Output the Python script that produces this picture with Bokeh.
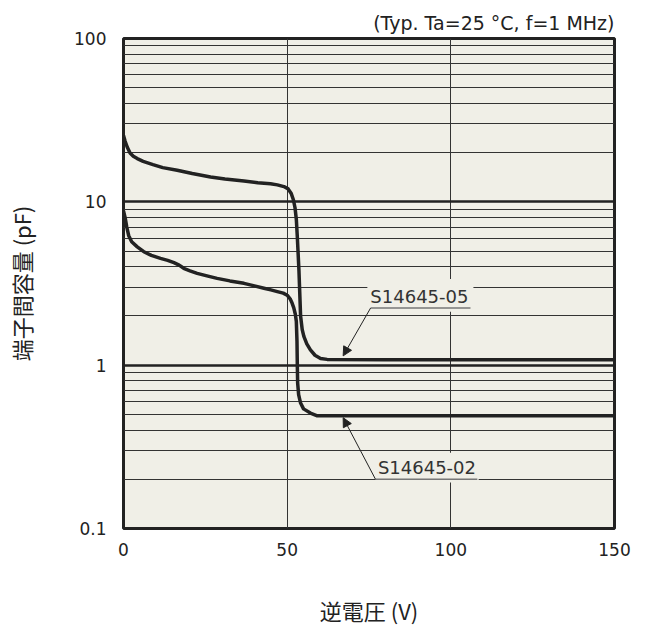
from bokeh.plotting import figure
from bokeh.models import FixedTicker, NumeralTickFormatter, Label, Arrow, NormalHead
from bokeh.embed import file_html
from bokeh.resources import INLINE

# Terminal capacitance vs. reverse voltage (Typ. Ta=25 °C, f=1 MHz)
voltage_05 = [0, 0.5, 1.2, 2.0, 3.0, 4.2, 6, 9, 12, 16.4, 21, 26.6, 31, 36.8, 41, 44.9,
              47, 49, 50.3, 51.2, 51.9, 52.4, 52.8, 53.1, 53.6, 54.1, 54.6, 55.1, 56,
              57.1, 58.5, 60.2, 62.2, 80, 100, 125, 150]
cap_05 = [25.5, 23.5, 21.5, 19.9, 19.0, 18.4, 17.7, 16.9, 16.2, 15.6, 14.9, 14.2, 13.8,
          13.4, 13.1, 12.9, 12.7, 12.4, 12.0, 11.3, 10.3, 9.2, 7.8, 6.1, 3.8, 2.0, 1.65,
          1.5, 1.35, 1.24, 1.15, 1.10, 1.085, 1.08, 1.08, 1.08, 1.08]

voltage_02 = [0, 0.5, 1.0, 1.6, 2.5, 4.2, 6.2, 8.5, 11.3, 13.5, 15.4, 17, 18.4, 20.3,
              22.5, 25.5, 28.6, 32.5, 36.8, 40, 42.9, 45, 47, 48.8, 50, 50.9, 51.5,
              52.0, 52.5, 52.8, 53.0, 53.1, 53.2, 53.5, 54.1, 55.0, 57.1, 59.2, 100, 150]
cap_02 = [8.8, 8.0, 7.0, 6.2, 5.7, 5.3, 4.95, 4.7, 4.51, 4.38, 4.24, 4.1, 3.92, 3.78,
          3.65, 3.52, 3.40, 3.28, 3.17, 3.06, 2.96, 2.89, 2.82, 2.76, 2.68, 2.55, 2.4,
          2.25, 2.05, 1.85, 1.4, 1.0, 0.78, 0.66, 0.586, 0.54, 0.509, 0.49, 0.49, 0.49]

x_ticks = [0, 50, 100, 150]
y_ticks = [0.1, 1, 10, 100]

BG = "#F0EFE7"
INK = "#222222"

p = figure(width=646, height=628, x_range=(0, 150), y_range=(0.1, 100),
           y_axis_type="log", output_backend="svg", toolbar_location=None,
           min_border_left=123, min_border_right=32, min_border_top=38,
           min_border_bottom=99, background_fill_color=BG, border_fill_color="white",
           outline_line_color=INK, outline_line_width=3)

p.title.text = "(Typ. Ta=25 °C, f=1 MHz)"
p.title.align = "right"
p.title.text_font = "DejaVu Sans"
p.title.text_font_size = "19px"
p.title.text_font_style = "normal"
p.title.text_color = INK

# axes
p.xaxis.ticker = FixedTicker(ticks=x_ticks)
p.yaxis.ticker = FixedTicker(ticks=y_ticks)
p.yaxis.formatter = NumeralTickFormatter(format="0.[0]")
for ax in (p.xaxis[0], p.yaxis[0]):
    ax.axis_line_color = None
    ax.major_tick_line_color = None
    ax.minor_tick_line_color = None
    ax.major_label_text_font = "DejaVu Sans"
    ax.major_label_text_font_size = "17px"
    ax.major_label_text_color = INK
    ax.axis_label_text_font = "Noto Sans CJK JP"
    ax.axis_label_text_font_size = "22px"
    ax.axis_label_text_font_style = "normal"
    ax.axis_label_text_color = INK

p.xaxis.axis_label = "逆電圧 (V)"
p.yaxis.axis_label = "端子間容量 (pF)"
p.xaxis.major_label_standoff = 8
p.yaxis.major_label_standoff = 11
p.xaxis.axis_label_standoff = 35
p.yaxis.axis_label_standoff = 34

# grid
minor = [k * 10.0 ** e for e in (-1, 0, 1) for k in range(2, 10)]
p.ygrid.ticker = FixedTicker(ticks=y_ticks, minor_ticks=minor)
p.ygrid.grid_line_color = INK
p.ygrid.grid_line_width = 2.5
p.ygrid.minor_grid_line_color = "#333333"
p.ygrid.minor_grid_line_width = 1
p.xgrid.ticker = FixedTicker(ticks=x_ticks)
p.xgrid.grid_line_color = "#333333"
p.xgrid.grid_line_width = 1

# curves
p.line(voltage_05, cap_05, line_width=3.5, line_color=INK, line_join="round")
p.line(voltage_02, cap_02, line_width=3.5, line_color=INK, line_join="round")

# callout boxes hiding the grid behind the part names
p.quad(left=[74.5, 77.0], right=[106.9, 108.5], bottom=[2.12, 0.191], top=[3.37, 0.291],
       fill_color=BG, line_color=None)

for x, y, name in [(90.4, 2.65, "S14645-05"), (92.7, 0.2376, "S14645-02")]:
    p.add_layout(Label(x=x, y=y, text=name, text_align="center", text_baseline="middle",
                       text_font="DejaVu Sans", text_font_size="18px", text_color="#333333"))

# underlines
p.segment(x0=[75.5, 77.0], y0=[2.24, 0.2], x1=[106.0, 108.1], y1=[2.24, 0.2],
          line_color="#777777", line_width=1.5)

# leaders
for xs, ys, xe, ye in [(75.5, 2.24, 67.1, 1.14), (77.0, 0.2, 67.1, 0.477)]:
    p.add_layout(Arrow(x_start=xs, y_start=ys, x_end=xe, y_end=ye, line_color=INK,
                       line_width=1,
                       end=NormalHead(size=9, fill_color=INK, line_color=INK, line_width=1)))

open("out.html", "w").write(file_html(p, INLINE))
